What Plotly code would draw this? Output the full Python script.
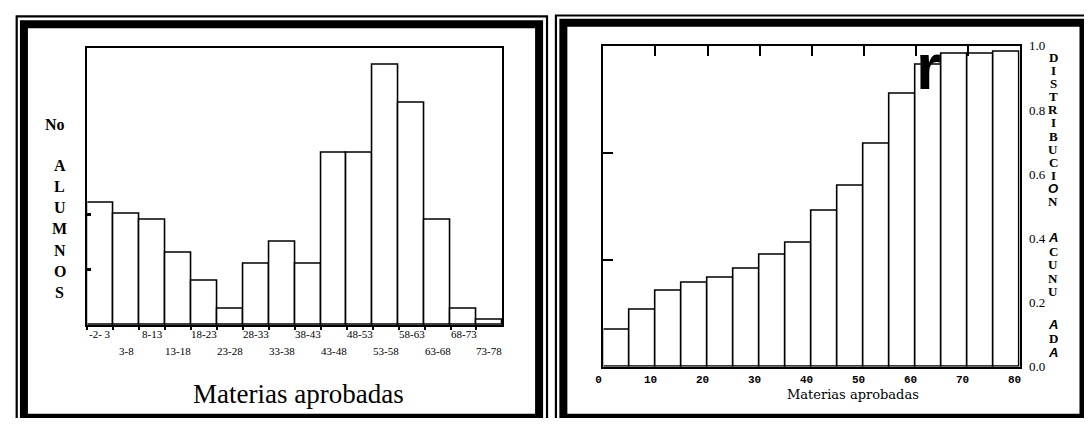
import plotly.graph_objects as go

# ---------------- data ----------------
bin_labels = ["-2- 3", "3-8", "8-13", "13-18", "18-23", "23-28", "28-33", "33-38",
              "38-43", "43-48", "48-53", "53-58", "58-63", "63-68", "68-73", "73-78"]
alumnos = [22, 20, 19, 13, 8, 3, 11, 15, 11, 31, 31, 47, 40, 19, 3, 1]

cum_bin_start = [0, 5, 10, 15, 20, 25, 30, 35, 40, 45, 50, 55, 60, 65, 70, 75]
cum_dist = [0.115, 0.177, 0.236, 0.26, 0.277, 0.306, 0.349, 0.386,
            0.487, 0.563, 0.693, 0.85, 0.94, 0.975, 0.975, 0.98]

x2_ticks = [0, 10, 20, 30, 40, 50, 60, 70, 80]
y2_ticks = [0.0, 0.2, 0.4, 0.6, 0.8, 1.0]
y2_ticktext = ["0.0", "0.2", "0.4", "0.6", "0.8", "1.0"]

# page body has an 8px margin: figure sized to fit the window inside it
OX, OY = 8, 8
FW, FH = 1092 - 2 * OX, 426 - 2 * OY


def px(x):
    return (x - OX) / FW


def py(y):
    return 1 - (y - OY) / FH


fig = go.Figure()

# left histogram
fig.add_trace(go.Bar(
    x=bin_labels, y=alumnos, width=1,
    marker=dict(color="white", line=dict(color="black", width=1.6)),
    xaxis="x", yaxis="y", showlegend=False, hoverinfo="skip"))

# right cumulative distribution
fig.add_trace(go.Bar(
    x=cum_bin_start, y=cum_dist, width=5, offset=0,
    marker=dict(color="white", line=dict(color="black", width=1.6)),
    xaxis="x2", yaxis="y2", showlegend=False, hoverinfo="skip"))

# dummy traces to register overlay axes
fig.add_trace(go.Scatter(x=[None], y=[None], xaxis="x3", yaxis="y2",
                         showlegend=False, hoverinfo="skip"))
fig.add_trace(go.Scatter(x=[None], y=[None], xaxis="x2", yaxis="y3",
                         showlegend=False, hoverinfo="skip"))

fig.update_layout(
    width=FW, height=FH,
    margin=dict(l=0, r=0, t=0, b=0),
    paper_bgcolor="white", plot_bgcolor="white",
    bargap=0,
    xaxis=dict(domain=[px(80), px(499)], anchor="y", type="category",
               range=[-0.5, 15.5], tickvals=bin_labels,
               showticklabels=False,
               tickson="boundaries", ticks="outside", ticklen=3, tickwidth=2,
               tickcolor="black", showgrid=False, zeroline=False,
               showline=True, linecolor="black", linewidth=1.6, mirror=True),
    yaxis=dict(domain=[py(330), py(42)], anchor="x", range=[0, 50],
               tickvals=[0, 10, 20, 50], ticks="inside", ticklen=4, tickwidth=3,
               tickcolor="black", showticklabels=False, showgrid=False,
               zeroline=False, showline=True, linecolor="black", linewidth=1.6,
               mirror=True),
    xaxis2=dict(domain=[px(601), px(1021)], anchor="y2", range=[0, 80],
                tickvals=x2_ticks, ticks="", showgrid=False, zeroline=False,
                showline=True, linecolor="black", linewidth=1.6, mirror=True,
                tickfont=dict(family="Liberation Mono", size=11, color="black",
                              weight="bold"),
                ticklabelshift=-5, ticklabelstandoff=1),
    xaxis3=dict(overlaying="x2", anchor="y2", side="top", range=[0, 80],
                tickvals=[10, 20, 30, 40, 50, 60, 70], ticks="inside",
                ticklen=10, tickwidth=2, tickcolor="black",
                showticklabels=False, showgrid=False, zeroline=False,
                showline=False),
    yaxis2=dict(domain=[py(373), py(40)], anchor="x2", side="right",
                range=[0, 1], tickvals=y2_ticks, ticktext=y2_ticktext,
                ticks="", showgrid=False, zeroline=False, showline=True,
                linecolor="black", linewidth=1.6, mirror=True,
                tickfont=dict(family="Liberation Serif", size=13, color="black"),
                ticklabelstandoff=5),
    yaxis3=dict(overlaying="y2", anchor="x2", side="left", range=[0, 1],
                tickvals=[1 / 3, 2 / 3], ticks="inside", ticklen=10,
                tickwidth=1.5, tickcolor="black", showticklabels=False,
                showgrid=False, zeroline=False, showline=False),
)

shapes = []
# left panel double frame
shapes.append(dict(type="rect", xref="paper", yref="paper",
                   x0=px(8.7), x1=px(544), y0=py(9.5), y1=py(440),
                   line=dict(color="black", width=2.2), fillcolor="rgba(0,0,0,0)"))
shapes.append(dict(type="rect", xref="paper", yref="paper",
                   x0=px(16), x1=px(536), y0=py(17.5), y1=py(426),
                   line=dict(color="black", width=8), fillcolor="rgba(0,0,0,0)"))
# right panel double frame
shapes.append(dict(type="rect", xref="paper", yref="paper",
                   x0=px(553), x1=px(1100), y0=py(8.5), y1=py(440),
                   line=dict(color="black", width=2.2), fillcolor="rgba(0,0,0,0)"))
shapes.append(dict(type="rect", xref="paper", yref="paper",
                   x0=px(560.5), x1=px(1085.5), y0=py(16), y1=py(426),
                   line=dict(color="black", width=8), fillcolor="rgba(0,0,0,0)"))
fig.update_layout(shapes=shapes)

ann = []
# left category labels, alternating in two rows
lab_font = dict(family="Liberation Serif", size=11, color="black")
for i, lab in enumerate(bin_labels):
    ann.append(dict(text=lab, x=lab, xref="x", yref="paper",
                    y=py(339 if i % 2 == 0 else 357),
                    showarrow=False, font=lab_font,
                    xanchor="center", yanchor="middle"))

serif_b = dict(family="Liberation Serif", size=16, color="black", weight="bold")
ann.append(dict(text="No", x=px(47), y=py(122), xref="paper", yref="paper",
                showarrow=False, font=serif_b, xanchor="center", yanchor="middle"))
for i, ch in enumerate("ALUMNOS"):
    ann.append(dict(text=ch, x=px(52), y=py(164 + 22 * i), xref="paper",
                    yref="paper", showarrow=False, font=serif_b,
                    xanchor="center", yanchor="middle"))
ann.append(dict(text="Materias aprobadas", x=px(293), y=py(401), xref="paper",
                yref="paper", showarrow=False,
                font=dict(family="Liberation Serif", size=27, color="black"),
                xanchor="center", yanchor="middle"))
ann.append(dict(text="Materias aprobadas", x=px(853), y=py(402), xref="paper",
                yref="paper", showarrow=False,
                font=dict(family="DejaVu Serif", size=13, color="black"),
                xanchor="center", yanchor="middle"))

# right vertical title, letter by letter
groups = [("DISTRIBUCION", 52, 13.6), ("ACUNU", 239, 14.0), ("ADA", 329, 14.5)]
italic_set = {("DISTRIBUCION", 10), ("ACUNU", 0), ("ADA", 0), ("ADA", 2)}
for word, y0, step in groups:
    for i, ch in enumerate(word):
        if (word, i) in italic_set:
            f = dict(family="Liberation Sans", size=13, color="black",
                     weight="bold", style="italic")
        else:
            f = dict(family="Liberation Serif", size=13, color="black",
                     weight="bold")
        ann.append(dict(text=ch, x=px(1055), y=py(y0 + step * i),
                        xref="paper", yref="paper", showarrow=False, font=f,
                        xanchor="center", yanchor="middle"))

# large stray "r" in the right panel
ann.append(dict(text="r", x=px(929), y=py(62), xref="paper", yref="paper",
                showarrow=False,
                font=dict(family="Liberation Sans", size=64, color="black",
                          weight="bold"),
                xanchor="center", yanchor="middle"))
fig.update_layout(annotations=ann)

fig.write_html("out.html")
